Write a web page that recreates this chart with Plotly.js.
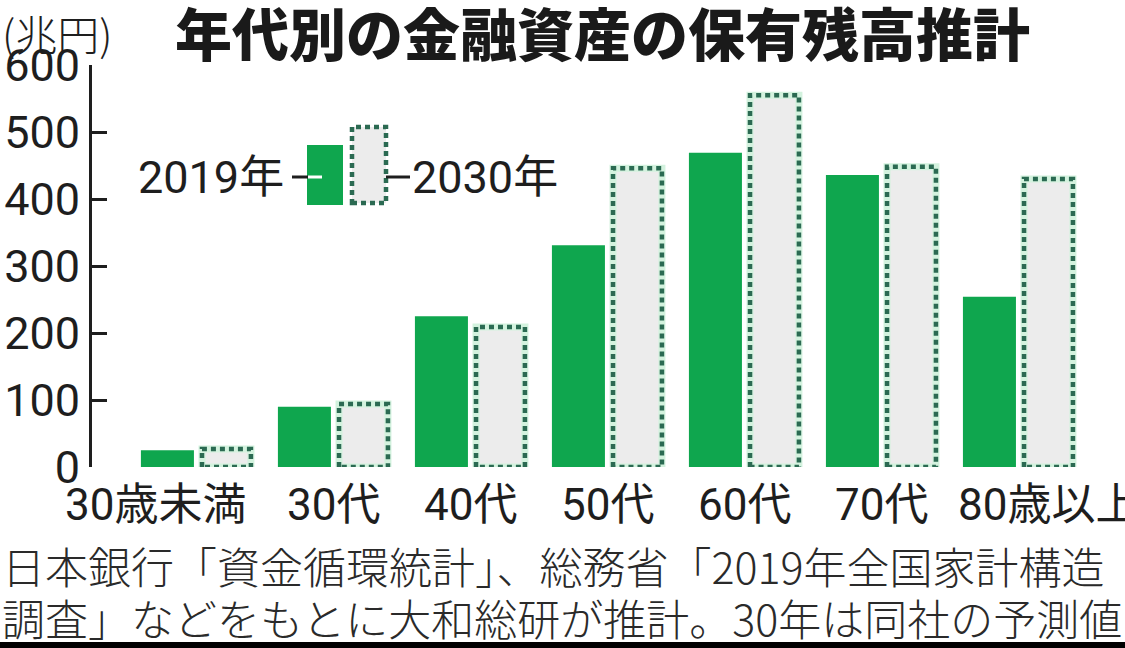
<!DOCTYPE html>
<html>
<head>
<meta charset="utf-8">
<script src="https://cdn.plot.ly/plotly-3.0.1.min.js"></script>
<style>
  html, body { margin: 0; padding: 0; background: #fff; }
  #chart { width: 1125px; height: 648px; }
</style>
</head>
<body>
<div id="chart"></div>
<script>
// 年代別の金融資産の保有残高 (兆円)
var categories = ['30歳未満', '30代', '40代', '50代', '60代', '70代', '80歳以上'];
var values2019 = [25, 90, 225, 331, 469, 436, 254];
var values2030 = [27, 94, 209, 446, 555, 448, 430];
var yTicks = [0, 100, 200, 300, 400, 500, 600];
var sourceLines = [
    '日本銀行「資金循環統計」、総務省「2019年全国家計構造',
    '調査」などをもとに大和総研が推計。30年は同社の予測値'
];

var GREEN = '#0fa64e';
var GRAY = '#ececec';
var DOT = '#2b6a52';
var INK = '#1e1e1e';
var NUM = "Roboto, 'Noto Sans CJK JP', sans-serif";
var CJK = "'Noto Sans CJK JP', sans-serif";

var xIdx = categories.map(function(c, i) { return i; });

// 2030年の棒の点線枠 (棒の左右端)
var outerA = 0.037, outerB = 0.394;

function outlinePath(vals) {
    var px = [], py = [];
    vals.forEach(function(v, i) {
        px.push(i + outerA, i + outerA, i + outerB, i + outerB, i + outerA, null);
        py.push(0, v, v, 0, 0, null);
    });
    return { x: px, y: py };
}
var outline = outlinePath(values2030);

var trace2019 = {
    type: 'bar',
    x: xIdx,
    y: values2019,
    offset: -0.409,
    width: 0.387,
    marker: { color: GREEN, line: { width: 0 } },
    hoverinfo: 'skip'
};

var trace2030 = {
    type: 'bar',
    x: xIdx,
    y: values2030,
    offset: outerA,
    width: outerB - outerA,
    marker: { color: GRAY, line: { width: 0 } },
    hoverinfo: 'skip'
};

var traceHalo = {
    type: 'scatter',
    mode: 'lines',
    x: outline.x,
    y: outline.y,
    line: { color: '#d3f2de', width: 7 },
    hoverinfo: 'skip',
    cliponaxis: false
};

var traceDots = {
    type: 'scatter',
    mode: 'lines',
    x: outline.x,
    y: outline.y,
    line: { color: DOT, width: 4.5, dash: '5px,4px' },
    hoverinfo: 'skip',
    cliponaxis: false
};

// paper 座標への変換 (プロット領域: x 92..1125px, y 65..467px)
function px2x(p) { return (p - 92) / 1033; }
function px2y(p) { return (467 - p) / 402; }

var annotations = [];

annotations.push({
    xref: 'paper', yref: 'paper',
    x: px2x(0), y: px2y(32),
    xanchor: 'left', yanchor: 'middle',
    text: '(兆円)',
    showarrow: false,
    font: { family: CJK, size: 42, color: INK, weight: 300 }
});

var labelShift = [-41, 0, 0, 0, 0, 0, 30];
categories.forEach(function(c, i) {
    annotations.push({
        xref: 'x', yref: 'paper',
        x: i, y: px2y(505),
        xanchor: 'center', yanchor: 'middle',
        xshift: labelShift[i],
        text: c,
        showarrow: false,
        font: { family: NUM, size: 44, color: INK }
    });
});

sourceLines.forEach(function(t, i) {
    annotations.push({
        xref: 'paper', yref: 'paper',
        x: px2x(0), y: px2y(565 + i * 52),
        xanchor: 'left', yanchor: 'middle',
        text: t,
        showarrow: false,
        font: { family: CJK, size: 43, color: '#2a2a2a', weight: 300 }
    });
});

// 凡例
annotations.push({
    xref: 'paper', yref: 'paper',
    x: px2x(286), y: px2y(177),
    xanchor: 'right', yanchor: 'middle',
    text: '2019年',
    showarrow: false,
    font: { family: NUM, size: 45, color: INK }
});
annotations.push({
    xref: 'paper', yref: 'paper',
    x: px2x(410), y: px2y(177),
    xanchor: 'left', yanchor: 'middle',
    text: '2030年',
    showarrow: false,
    font: { family: NUM, size: 45, color: INK }
});

var shapes = [
    { type: 'rect', xref: 'paper', yref: 'paper',
      x0: px2x(307), x1: px2x(343), y0: px2y(205), y1: px2y(145),
      fillcolor: GREEN, line: { width: 0 } },
    { type: 'rect', xref: 'paper', yref: 'paper',
      x0: px2x(352), x1: px2x(386), y0: px2y(203), y1: px2y(127),
      fillcolor: GRAY, line: { color: DOT, width: 4.5, dash: '5px,4px' } },
    { type: 'line', xref: 'paper', yref: 'paper',
      x0: px2x(292), x1: px2x(308), y0: px2y(177), y1: px2y(177),
      line: { color: INK, width: 3 } },
    { type: 'line', xref: 'paper', yref: 'paper',
      x0: px2x(308), x1: px2x(322), y0: px2y(177), y1: px2y(177),
      line: { color: '#ffffff', width: 3 } },
    { type: 'line', xref: 'paper', yref: 'paper',
      x0: px2x(386), x1: px2x(410), y0: px2y(177), y1: px2y(177),
      line: { color: INK, width: 3 } },
    // 下端の黒帯
    { type: 'rect', xref: 'paper', yref: 'paper',
      x0: px2x(0), x1: px2x(1125), y0: px2y(648), y1: px2y(642),
      fillcolor: '#000000', line: { width: 0 } }
];

var layout = {
    width: 1125,
    height: 648,
    paper_bgcolor: '#ffffff',
    plot_bgcolor: '#ffffff',
    showlegend: false,
    barmode: 'overlay',
    margin: { l: 92, r: 0, t: 65, b: 181 },
    title: {
        text: '年代別の金融資産の保有残高推計',
        xref: 'container', yref: 'container',
        x: 175 / 1125, y: 1 - 36 / 648,
        xanchor: 'left', yanchor: 'middle',
        font: { family: CJK, size: 57, color: '#1a1a1a', weight: 900 }
    },
    xaxis: {
        range: [-0.766, 6.774],
        showgrid: false,
        zeroline: false,
        showline: false,
        showticklabels: false,
        ticks: '',
        fixedrange: true
    },
    yaxis: {
        range: [0, 600],
        tickvals: yTicks,
        ticktext: yTicks.map(String),
        showgrid: false,
        zeroline: false,
        showline: true,
        linecolor: INK,
        linewidth: 3,
        ticks: 'inside',
        ticklen: 15,
        tickwidth: 3,
        tickcolor: INK,
        ticklabelstandoff: 0,
        tickfont: { family: NUM, size: 45, color: INK },
        fixedrange: true
    },
    annotations: annotations,
    shapes: shapes
};

Plotly.newPlot('chart', [trace2019, trace2030, traceHalo, traceDots], layout, { displayModeBar: false, staticPlot: true });
</script>
</body>
</html>
